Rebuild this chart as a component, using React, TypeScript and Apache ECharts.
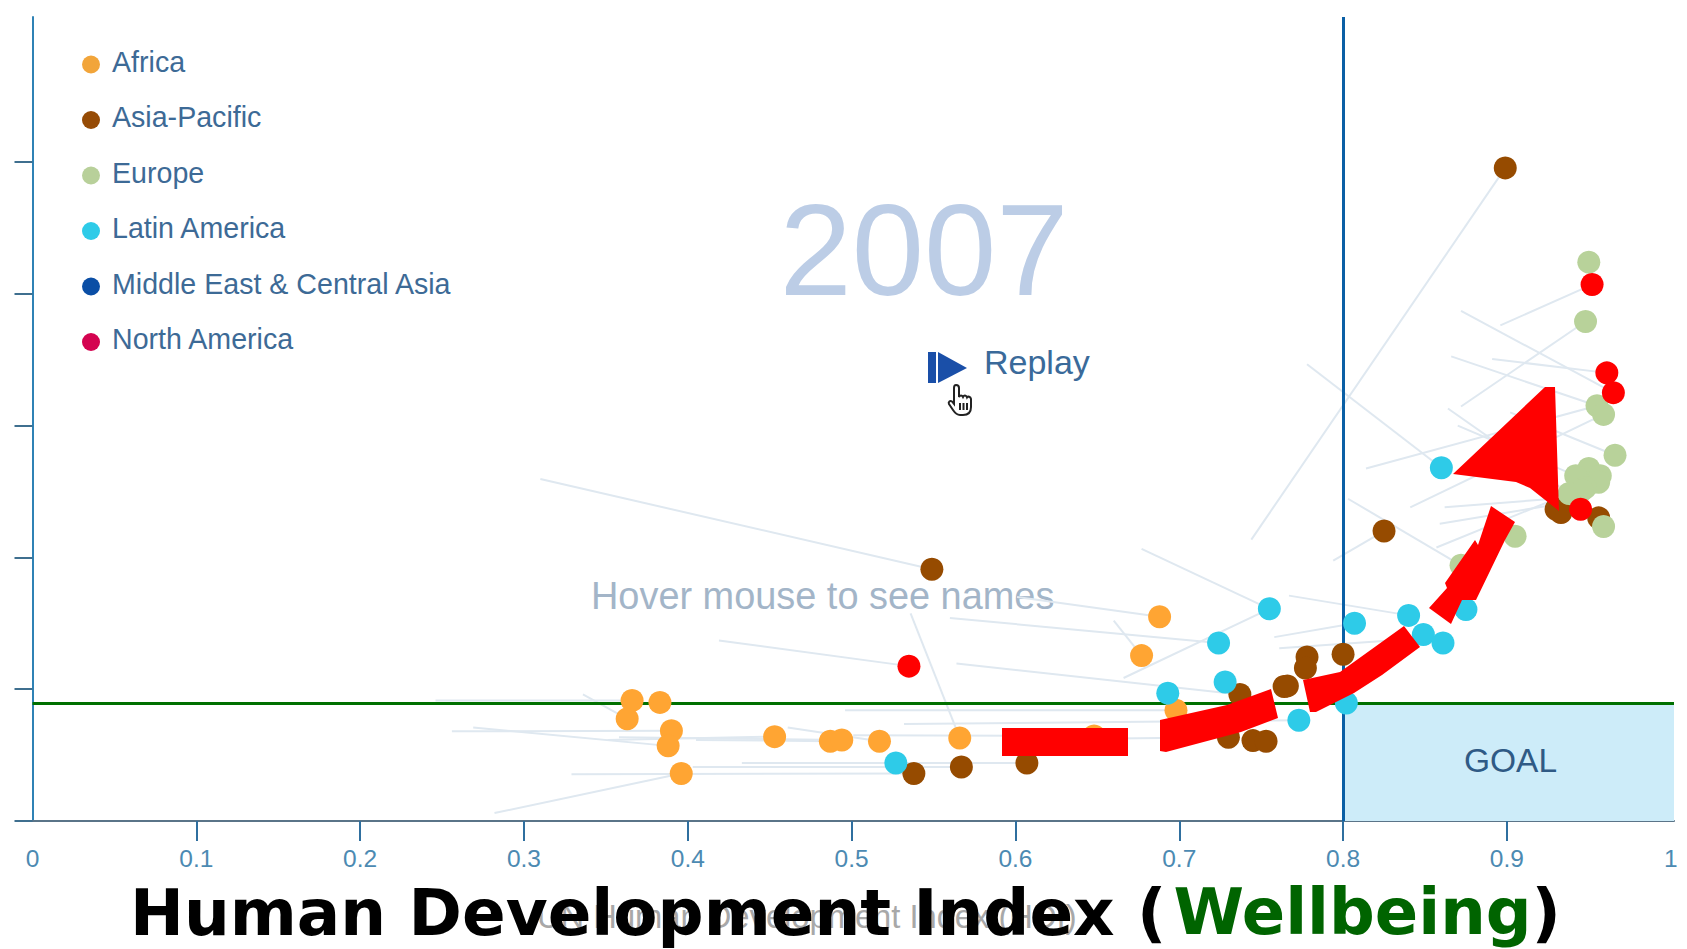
import React, { useEffect, useRef } from "react";
import * as echarts from "echarts";

const xTicks = [0.1, 0.2, 0.3, 0.4, 0.5, 0.6, 0.7, 0.8, 0.9];
const xLabels = [0, 0.1, 0.2, 0.3, 0.4, 0.5, 0.6, 0.7, 0.8, 0.9, 1];
const yTicks = [0, 2, 4, 6, 8, 10];
const hdiGoal = 0.8;
const footprintGoal = 1.78;
const xEnd = 1.002;
const year = "2007";

const africa = [[0.366, 1.83], [0.383, 1.8], [0.363, 1.55], [0.39, 1.37], [0.388, 1.14], [0.396, 0.72], [0.453, 1.28], [0.487, 1.21], [0.494, 1.23], [0.517, 1.21], [0.566, 1.26], [0.648, 1.29], [0.677, 2.51], [0.688, 3.1], [0.698, 1.68]];
const asiaPacific = [[0.899, 9.91], [0.549, 3.82], [0.825, 4.4], [0.93, 4.73], [0.933, 4.68], [0.956, 4.6], [0.538, 0.72], [0.567, 0.82], [0.607, 0.88], [0.73, 1.27], [0.745, 1.22], [0.753, 1.21], [0.737, 1.92], [0.764, 2.04], [0.766, 2.05], [0.778, 2.49], [0.777, 2.32], [0.8, 2.53]];
const europe = [[0.95, 8.48], [0.948, 7.58], [0.955, 6.3], [0.959, 6.17], [0.966, 5.55], [0.95, 5.35], [0.957, 5.24], [0.942, 5.24], [0.956, 5.14], [0.948, 5.06], [0.938, 4.97], [0.946, 5.02], [0.959, 4.47], [0.905, 4.32], [0.872, 3.88]];
const latinAmerica = [[0.86, 5.36], [0.755, 3.22], [0.807, 3.0], [0.84, 3.12], [0.849, 2.83], [0.861, 2.7], [0.875, 3.21], [0.724, 2.7], [0.728, 2.11], [0.693, 1.94], [0.773, 1.53], [0.802, 1.79], [0.527, 0.88], [0.833, 2.66]];
const middleEast: number[][] = [];
const northAmerica = [[0.952, 8.14], [0.961, 6.8], [0.965, 6.5], [0.945, 4.73], [0.535, 2.35]];

const trails = [
  [0.744, 4.27, 0.899, 9.91], [0.896, 7.52, 0.952, 8.14], [0.872, 6.29, 0.948, 7.58], [0.872, 7.74, 0.965, 6.5],
  [0.891, 7.01, 0.961, 6.8], [0.866, 7.05, 0.955, 6.3], [0.778, 6.93, 0.86, 5.36], [0.902, 6.2, 0.966, 5.55],
  [0.87, 6.0, 0.942, 5.24], [0.864, 6.26, 0.938, 4.97], [0.814, 5.35, 0.955, 6.3], [0.841, 4.76, 0.959, 6.17],
  [0.862, 4.76, 0.929, 4.89], [0.859, 4.51, 0.929, 4.8], [0.857, 4.15, 0.938, 4.97], [0.803, 4.89, 0.872, 3.88],
  [0.677, 4.13, 0.755, 3.22], [0.794, 3.95, 0.825, 4.4], [0.66, 3.04, 0.677, 2.51], [0.666, 2.17, 0.755, 3.22],
  [0.601, 3.4, 0.688, 3.1], [0.56, 3.08, 0.724, 2.7], [0.767, 3.42, 0.84, 3.12], [0.758, 2.79, 0.807, 3.0],
  [0.761, 2.62, 0.829, 2.74], [0.31, 5.19, 0.549, 3.82], [0.419, 2.74, 0.535, 2.35], [0.536, 3.15, 0.566, 1.26],
  [0.336, 1.92, 0.363, 1.55], [0.256, 1.36, 0.39, 1.37], [0.269, 1.42, 0.388, 1.14], [0.351, 1.23, 0.453, 1.28],
  [0.405, 1.23, 0.487, 1.21], [0.358, 1.27, 0.494, 1.23], [0.461, 1.42, 0.517, 1.21], [0.282, 0.12, 0.396, 0.72],
  [0.329, 0.71, 0.538, 0.72], [0.403, 0.82, 0.567, 0.82], [0.433, 0.88, 0.527, 0.88], [0.496, 1.68, 0.698, 1.68],
  [0.532, 1.47, 0.773, 1.53], [0.246, 1.83, 0.366, 1.83], [0.451, 0.88, 0.607, 0.88], [0.501, 1.3, 0.648, 1.29],
  [0.661, 1.25, 0.73, 1.27], [0.564, 2.39, 0.737, 1.92], [0.882, 3.6, 0.872, 3.88],
];

const regions = [
  { name: "Africa", data: africa, dot: "#ffa533", key: "#f2a53a" },
  { name: "Asia-Pacific", data: asiaPacific, dot: "#964b00", key: "#964b05" },
  { name: "Europe", data: europe, dot: "#b8d29a", key: "#b8d09a" },
  { name: "Latin America", data: latinAmerica, dot: "#2ecbe8", key: "#2ecbe8" },
  { name: "Middle East & Central Asia", data: middleEast, dot: "#0a4ea5", key: "#0a4ea5" },
  { name: "North America", data: northAmerica, dot: "#ff0000", key: "#d40350" },
];

const arrowParts = [
  [[1002, 728], [1128, 728], [1128, 756], [1002, 756]],
  [[1160, 720], [1227, 705], [1271, 689], [1278, 718], [1241, 732], [1166, 752], [1160, 751]],
  [[1303, 680], [1340, 672], [1404, 626], [1420, 647], [1382, 675], [1354, 693], [1316, 712], [1310, 712]],
  [[1491, 506], [1515, 522], [1505, 540], [1476, 600], [1462, 600], [1451, 624], [1429, 608], [1447, 588], [1445, 583], [1475, 540], [1478, 545]],
  [[1545, 387], [1555, 387], [1559, 511], [1530, 488], [1516, 482], [1453, 474]],
];

const handPath = "M8 1 C10 1 11 2 11 4 L11 13 C12 11 14 11 15 13 C16 11 18 11 19 13.5 C20 12 22.5 12.5 23 15 L23 23 C23 28 20 31 15 31 L12 31 C9 31 7 29 5 26 L1 20 C0 18 2 16 4 17.5 L6 20 L6 4 C6 2 7 1 8 1 Z M12 19 L12 26 M15.5 19 L15.5 26 M19 19 L19 26";
const legendDotPath = "path://M0 0 L0 0 M0 15 A9 9 0 1 1 18 15 A9 9 0 1 1 0 15 Z";

export default function App() {
  const ref = useRef<HTMLDivElement>(null);
  useEffect(() => {
    if (!ref.current) return;
    echarts.graphic.registerShape("hand", (echarts.graphic as any).extendPath(handPath, {}));
    const chart = echarts.init(ref.current, null, { renderer: "svg" });
    const sans = "Liberation Sans";
    chart.setOption({
      animation: false,
      backgroundColor: "#ffffff",
      title: {
        text: "{k|Human Development Index (}{g|Wellbeing}{k|)}",
        left: 130,
        top: 880,
        padding: 0,
        textStyle: {
          rich: {
            k: { fontFamily: "DejaVu Sans", fontWeight: "bold", fontSize: 64.4, color: "#000000" },
            g: { fontFamily: "DejaVu Sans", fontWeight: "bold", fontSize: 64, color: "#006400", padding: [0, 0, 0, 7] },
          },
        },
      },
      legend: {
        orient: "vertical",
        left: 82,
        top: 46,
        padding: 0,
        itemWidth: 18,
        itemHeight: 24,
        itemGap: 24.5,
        icon: legendDotPath,
        textStyle: { fontFamily: sans, fontSize: 28.6, color: "#3d6a96", padding: [0, 0, 0, 7], lineHeight: 31 },
        data: regions.map((r) => ({ name: r.name, itemStyle: { color: r.key } })),
        selectedMode: false,
      },
      grid: { left: 32.5, right: 13, top: 17, bottom: 128 },
      xAxis: {
        type: "value",
        min: 0,
        max: xEnd,
        interval: 0.1,
        splitLine: { show: false },
        axisLine: { lineStyle: { color: "#5a7488", width: 2 } },
        axisTick: { length: 20, customValues: xTicks, lineStyle: { color: "#2f6f9f", width: 2 } },
        axisLabel: { margin: 25, customValues: xLabels, fontFamily: sans, fontSize: 24.5, color: "#4c8ab2" },
      },
      yAxis: {
        type: "value",
        min: 0,
        max: 12.2,
        interval: 2,
        splitLine: { show: false },
        axisLine: { lineStyle: { color: "#2f82b5", width: 2 } },
        axisTick: { length: 18, customValues: yTicks, lineStyle: { color: "#3f6f8f", width: 2 } },
        axisLabel: { show: false },
      },
      series: [
        {
          name: "goal",
          type: "custom",
          z: 1,
          silent: true,
          data: trails,
          renderItem: (_p: any, api: any) => {
            const a = api.coord([api.value(0), api.value(1)]);
            const b = api.coord([api.value(2), api.value(3)]);
            return {
              type: "line",
              shape: { x1: a[0], y1: a[1], x2: b[0], y2: b[1] },
              style: { stroke: "#dfe8f0", lineWidth: 2 },
            };
          },
          markArea: {
            silent: true,
            itemStyle: { color: "#cdecf9" },
            label: { show: true, position: "inside", fontFamily: sans, fontSize: 33.5, color: "#2f5a85", offset: [2, -2] },
            data: [[{ name: "GOAL", coord: [hdiGoal, 0] }, { coord: [xEnd, footprintGoal] }]],
          },
          markLine: {
            silent: true,
            symbol: "none",
            label: { show: false },
            data: [
              { xAxis: hdiGoal, lineStyle: { color: "#0a5fa5", width: 3, type: "solid" } },
              { yAxis: footprintGoal, lineStyle: { color: "#007000", width: 3, type: "solid" } },
            ],
          },
        },
        ...regions.map((r) => ({
          name: r.name,
          type: "scatter",
          z: 5,
          symbol: "circle",
          symbolSize: 23,
          itemStyle: { color: r.dot, opacity: 1 },
          data: r.data,
        })),
      ],
      graphic: [
        { type: "text", z: 1, x: 924, y: 250, style: { text: year, font: `130px ${sans}`, fill: "#bccde6", align: "center", verticalAlign: "middle" } },
        { type: "text", z: 1, x: 591, y: 596, style: { text: "Hover mouse to see names", font: `37.9px ${sans}`, fill: "#a3b5c8", align: "left", verticalAlign: "middle" } },
        { type: "text", z: 1, x: 537, y: 916, style: { text: "UN Human Development Index (HDI)", font: `32.7px ${sans}`, fill: "#a8a8a8", align: "left", verticalAlign: "middle" } },
        { type: "text", z: 20, x: 984, y: 362, style: { text: "Replay", font: `34px ${sans}`, fill: "#3a6a9a", align: "left", verticalAlign: "middle" } },
        { type: "rect", z: 20, shape: { x: 928, y: 352, width: 8, height: 31 }, style: { fill: "#1a4fa8" } },
        { type: "polygon", z: 20, shape: { points: [[938, 352], [967, 368], [938, 383]] }, style: { fill: "#1a4fa8" } },
        { type: "hand", z: 21, x: 948, y: 384, style: { fill: "#ffffff", stroke: "#222222", lineWidth: 2 } },
        ...arrowParts.map((points) => ({ type: "polygon", z: 50, shape: { points }, style: { fill: "#ff0000" } })),
      ],
    });
    return () => chart.dispose();
  }, []);
  return <div ref={ref} style={{ position: "fixed", left: 0, top: 0, width: 1687, height: 949 }} />;
}
